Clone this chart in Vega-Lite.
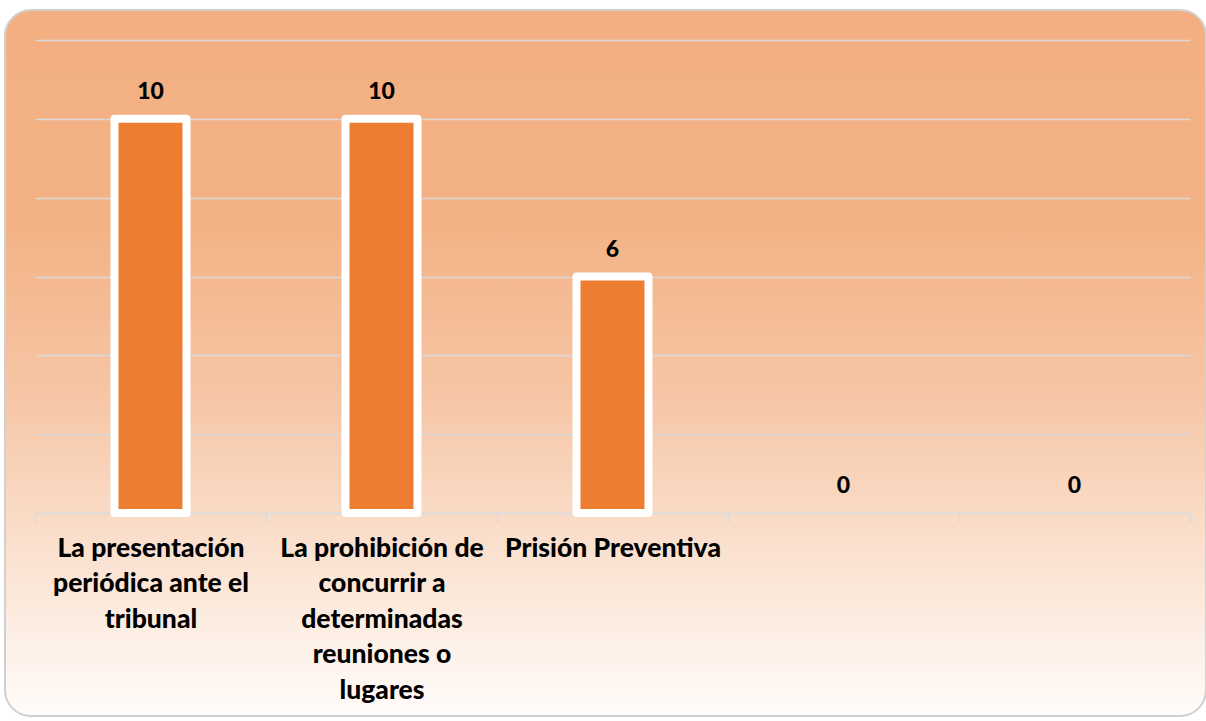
{
  "$schema": "https://vega.github.io/schema/vega-lite/v6.json",
  "width": 1201,
  "height": 706,
  "autosize": {"type": "none"},
  "padding": {"left": 5, "top": 10, "right": 0, "bottom": 5},
  "background": "#FFFFFF",
  "config": {
    "view": {
      "fill": {
        "gradient": "linear",
        "x1": 0, "y1": 0, "x2": 0, "y2": 1,
        "stops": [
          {"offset": 0, "color": "#F3AF82"},
          {"offset": 0.3, "color": "#F3B285"},
          {"offset": 0.55, "color": "#F6C6A6"},
          {"offset": 0.75, "color": "#FADFCC"},
          {"offset": 1, "color": "#FFFCFA"}
        ]
      },
      "stroke": "#D0D0D0",
      "strokeWidth": 2,
      "cornerRadius": 26
    }
  },
  "data": {
    "values": [
      {"categoria": "La presentación periódica ante el tribunal", "valor": 10},
      {"categoria": "La prohibición de concurrir a determinadas reuniones o lugares", "valor": 10},
      {"categoria": "Prisión Preventiva", "valor": 6},
      {"categoria": "Sin nombre 4", "valor": 0},
      {"categoria": "Sin nombre 5", "valor": 0}
    ]
  },
  "encoding": {
    "x": {
      "field": "categoria",
      "type": "nominal",
      "sort": null,
      "scale": {"range": [30, 1185], "paddingInner": 0, "paddingOuter": 0},
      "axis": {
        "title": null,
        "orient": "bottom",
        "offset": -203,
        "labelAngle": 0,
        "labelFont": "Lato",
        "labelFontWeight": 900,
        "labelFontSize": 26.5,
        "labelColor": "#000000",
        "labelLineHeight": 35.5,
        "labelPadding": 13,
        "labelBaseline": "top",
        "labelLimit": 0,
        "labelExpr": "datum.value == 'La presentación periódica ante el tribunal' ? ['La presentación', 'periódica ante el', 'tribunal'] : datum.value == 'La prohibición de concurrir a determinadas reuniones o lugares' ? ['La prohibición de', 'concurrir a', 'determinadas', 'reuniones o', 'lugares'] : datum.value == 'Prisión Preventiva' ? 'Prisión Preventiva' : ''",
        "domainColor": "#D6D9DE",
        "domainWidth": 1.5,
        "tickColor": "#D6D9DE",
        "tickWidth": 1.5,
        "tickSize": 9,
        "tickBand": "extent",
        "grid": false
      }
    },
    "y": {
      "field": "valor",
      "type": "quantitative",
      "scale": {"domain": [0, 12], "range": [503, 30], "nice": false},
      "axis": {
        "title": null,
        "labels": false,
        "ticks": false,
        "domain": false,
        "values": [2, 4, 6, 8, 10, 12],
        "grid": true,
        "gridColor": "#D9D9D9",
        "gridWidth": 1.5
      }
    }
  },
  "layer": [
    {
      "mark": {
        "type": "bar",
        "color": "#ED7D31",
        "stroke": "#FFFFFF",
        "strokeWidth": 8,
        "strokeJoin": "round",
        "width": 72
      },
      "encoding": {
        "y2": {"datum": 0},
        "opacity": {"condition": {"test": "datum.valor > 0", "value": 1}, "value": 0}
      }
    },
    {
      "mark": {
        "type": "text",
        "font": "Lato",
        "fontWeight": 900,
        "fontSize": 23,
        "color": "#000000",
        "baseline": "bottom",
        "dy": -15
      },
      "encoding": {
        "text": {"field": "valor", "type": "quantitative"}
      }
    }
  ]
}
